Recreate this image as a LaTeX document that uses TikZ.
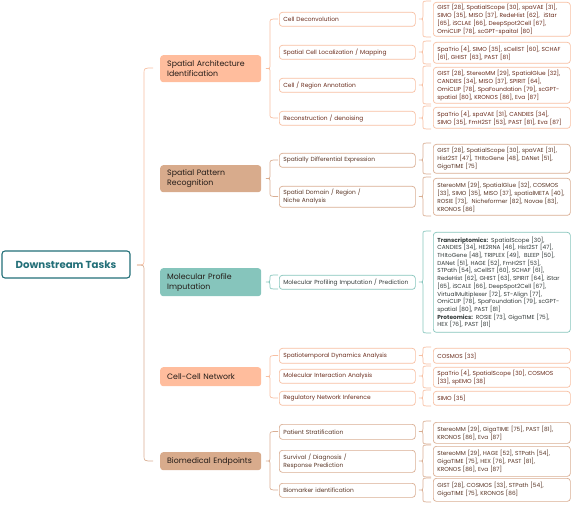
\documentclass[tikz,border=0pt]{standalone}
\usepackage{fontspec}
\setmainfont{Poppins}
\definecolor{peachF}{HTML}{FFBD9D}
\definecolor{peachL}{HTML}{F7BFA2}
\definecolor{peachT}{HTML}{6A2C1C}
\definecolor{tanF}{HTML}{D8AB8C}
\definecolor{tanL}{HTML}{D9AE93}
\definecolor{tanT}{HTML}{5A3626}
\definecolor{tealF}{HTML}{86C5BC}
\definecolor{tealL}{HTML}{86C5BC}
\definecolor{tealT}{HTML}{333B3A}
\definecolor{rootC}{HTML}{226F78}
\definecolor{catT}{HTML}{241C18}
\newcommand\leaffont{\fontsize{5.8}{8}\selectfont}
\newcommand\subfont{\fontsize{5.9}{8}\selectfont}
\newcommand\catfont{\fontsize{7.8}{9.8}\selectfont}
\newcommand\cbr[8]{\draw[#1] (#4,#5) .. controls (#3,#5) .. (#3,#5+#8) -- (#3,#6-#8) .. controls (#3,#6) .. (#2,#6) .. controls (#3,#6) .. (#3,#6+#8) -- (#3,#7-#8) .. controls (#3,#7) .. (#4,#7);}
\begin{document}
\begin{tikzpicture}[x=1pt,y=-1pt,
  leafbox/.style={draw, rounded corners=3pt, line width=0.7pt, fill=white, anchor=north west,
    text width=129pt, inner xsep=4pt, inner ysep=1pt, align=left, font=\leaffont},
  subbox/.style={draw, rounded corners=3pt, line width=0.7pt, fill=white, anchor=north west,
    text width=128pt, inner xsep=4pt, inner ysep=1pt, align=left, font=\subfont},
  catbox/.style={rounded corners=3pt, anchor=north west, text width=87pt, inner xsep=7pt,
    inner ysep=1pt, align=left, font=\catfont, text=catT},
  rootbox/.style={draw=rootC, line width=1.1pt, rounded corners=3pt, fill=white, text=rootC,
    font=\fontsize{10.2}{12}\selectfont\bfseries, minimum width=128pt, minimum height=27pt, inner sep=0pt},
  bP/.style={draw=peachL, line width=0.7pt},
  bT/.style={draw=tanL, line width=0.7pt},
  bG/.style={draw=tealL, line width=0.7pt},
  pk/.style={draw=peachL, text=peachT},
  tn/.style={draw=tanL, text=tanT},
  tl/.style={draw=tealL, text=tealT}
]
\useasboundingbox (0,0) rectangle (571,505);

% root
\node[rootbox] (root) at (66,264.5) {Downstream Tasks};

% root brace
\draw[bP] (153,68) .. controls (144,68) .. (144,74) -- (144,259) .. controls (144,265) .. (137,265);
\draw[bT] (137,265) .. controls (144,265) .. (144,271) -- (144,455) .. controls (144,461) .. (153,461);

% categories
\node[catbox, fill=peachF, minimum height=27pt] (C1) at (160,55) {Spatial Architecture\\Identification};
\node[catbox, fill=tanF, minimum height=27pt] (C2) at (160,165) {Spatial Pattern\\Recognition};
\node[catbox, fill=tealF, minimum height=28pt] (C3) at (160,268) {Molecular Profile\\Imputation};
\node[catbox, fill=peachF, minimum height=19pt] (C4) at (160,367) {Cell-Cell Network};
\node[catbox, fill=tanF, minimum height=18pt] (C5) at (160,452) {Biomedical Endpoints};

% category braces
\cbr{bP}{266}{270}{278}{19}{68.5}{118}{4}
\cbr{bT}{266}{270}{278}{160}{178.5}{196.5}{4}
\cbr{bG}{266}{270}{278}{275}{282}{289}{3}
\cbr{bP}{266}{270}{278}{355.5}{376.5}{398}{4}
\cbr{bT}{266}{270}{278}{431.5}{461}{490}{4}

% sub boxes
\node[subbox, pk, minimum height=14pt] (S1) at (279,12) {Cell Deconvolution};
\node[subbox, pk, minimum height=14pt] (S2) at (279,45) {Spatial Cell Localization / Mapping};
\node[subbox, pk, minimum height=14pt] (S3) at (279,78) {Cell / Region Annotation};
\node[subbox, pk, minimum height=14pt] (S4) at (279,111) {Reconstruction / denoising};
\node[subbox, tn, minimum height=14pt] (S5) at (279,153) {Spatially Differential Expression};
\node[subbox, tn, minimum height=21pt] (S6) at (279,186) {Spatial Domain / Region /\\Niche Analysis};
\node[subbox, tl, minimum height=14pt] (S7) at (279,275) {Molecular Profiling Imputation / Prediction};
\node[subbox, pk, minimum height=15pt] (S8) at (279,348) {Spatiotemporal Dynamics Analysis};
\node[subbox, pk, minimum height=14pt] (S9) at (279,369) {Molecular Interaction Analysis};
\node[subbox, pk, minimum height=14pt] (S10) at (279,391) {Regulatory Network Inference};
\node[subbox, tn, minimum height=15pt] (S11) at (279,424) {Patient Stratification};
\node[subbox, tn, minimum height=22pt] (S12) at (279,450) {Survival / Diagnosis /\\Response Prediction};
\node[subbox, tn, minimum height=14pt] (S13) at (279,483) {Biomarker identification};

% leaf braces
\cbr{bP}{419}{423}{431}{1}{19}{37}{3}
\cbr{bP}{419}{423}{431}{41}{52}{64}{3}
\cbr{bP}{419}{423}{431}{66}{85}{104}{3}
\cbr{bP}{419}{423}{431}{106}{118}{129}{3}
\cbr{bT}{419}{423}{431}{143}{160}{174}{3}
\cbr{bT}{419}{423}{431}{177}{196.5}{216}{3}
\cbr{bG}{419}{423}{431}{231}{282}{333}{3}
\cbr{bP}{419}{423}{431}{347}{355.5}{364}{3}
\cbr{bP}{419}{423}{431}{366}{376}{388}{3}
\cbr{bP}{419}{423}{431}{390}{398}{406}{3}
\cbr{bT}{419}{423}{431}{421}{431.5}{444}{3}
\cbr{bT}{419}{423}{431}{445}{461}{477}{3}
\cbr{bT}{419}{423}{431}{478}{490}{502}{3}

% leaves
\node[leafbox, pk, minimum height=34pt] (L1) at (433,2) {GIST [28], SpatialScope [30], spaVAE [31],\\SIMO [35], MISO [37], RedeHist [62],\ \ iStar\\{}[65], iSCLAE [66], DeepSpot2Cell [67],\\OmiCLIP [78], scGPT-spaital [80]};
\node[leafbox, pk, minimum height=21pt] (L2) at (433,42) {SpaTrio [4], SIMO [35], sCellST [60], SCHAF\\{}[61], GHIST [63], PAST [81]};
\node[leafbox, pk, minimum height=36pt] (L3) at (433,67) {GIST [28], StereoMM [29], SpatialGlue [32],\\CANDIES [34], MISO [37], SPIRIT [64],\\OmiCLIP [78], SpaFoundation [79], scGPT-\\spatial [80], KRONOS [86], Eva [87]};
\node[leafbox, pk, minimum height=21pt] (L4) at (433,107) {SpaTrio [4], spaVAE [31], CANDIES [34],\\SIMO [35], FmH2ST [53], PAST [81], Eva [87]};
\node[leafbox, tn, minimum height=29pt] (L5) at (433,144) {GIST [28], SpatialScope [30], spaVAE [31],\\Hist2ST [47], THItoGene [48], DANet [51],\\GigaTIME [75]};
\node[leafbox, tn, minimum height=37pt] (L6) at (433,178) {StereoMM [29], SpatialGlue [32], COSMOS\\{}[33], SIMO [35], MISO [37], spatialMETA [40],\\ROSIE [73],\ \ Nicheformer [82], Novae [83],\\KRONOS [86]};
\node[leafbox, tl, minimum height=100pt, font=\fontsize{5.8}{7.7}\selectfont] (L7) at (433,232) {\textbf{Transcriptomics:} SpatialScope [30],\\CANDIES [34], HE2RNA [46], Hist2ST [47],\\THItoGene [48], TRIPLEX [49],\ \ BLEEP [50],\\DANet [51], HAGE [52], FmH2ST [53],\\STPath [54], sCellST [60], SCHAF [61],\\RedeHist [62], GHIST [63], SPIRIT [64], iStar\\{}[65], iSCALE [66], DeepSpot2Cell [67],\\VirtualMultiplexer [72], ST-Align [77],\\OmiCLIP [78], SpaFoundation [79], scGPT-\\spatial [80], PAST [81]\\\textbf{Proteomics:} ROSIE [73], GigaTIME [75],\\HEX [76], PAST [81]};
\node[leafbox, pk, minimum height=15pt] (L8) at (433,348) {COSMOS [33]};
\node[leafbox, pk, minimum height=20pt] (L9) at (433,367) {SpaTrio [4], SpatialScope [30], COSMOS\\{}[33], spEMO [38]};
\node[leafbox, pk, minimum height=14pt] (L10) at (433,391) {SIMO [35]};
\node[leafbox, tn, minimum height=21pt] (L11) at (433,422) {StereoMM [29], GigaTIME [75], PAST [81],\\KRONOS [86], Eva [87]};
\node[leafbox, tn, minimum height=30pt] (L12) at (433,446) {StereoMM [29], HAGE [52], STPath [54],\\GigaTIME [75], HEX [76], PAST [81],\\KRONOS [86], Eva [87]};
\node[leafbox, tn, minimum height=23pt] (L13) at (433,478) {GIST [28], COSMOS [33], STPath [54],\\GigaTIME [75], KRONOS [86]};
\end{tikzpicture}
\end{document}
